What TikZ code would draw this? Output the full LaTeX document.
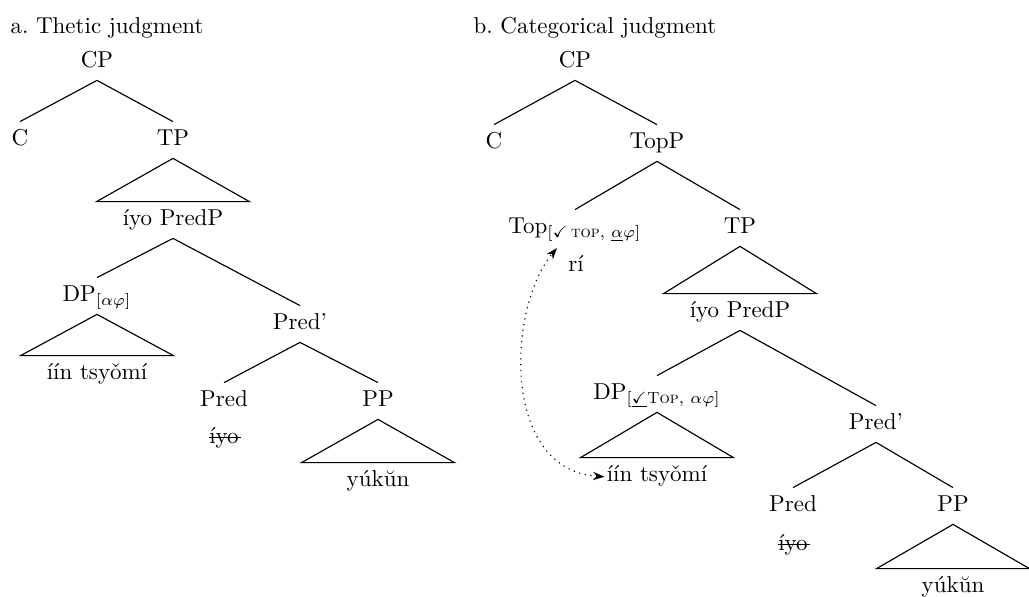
\documentclass[tikz,border=0pt]{standalone}
\usepackage{amsmath,amssymb}
\usetikzlibrary{arrows.meta}

\newcommand{\strikeword}[1]{\setbox0\hbox{#1}\rlap{\rule[0.55ex]{\dimexpr\wd0+1pt\relax}{0.5pt}}\box0}

\begin{document}
\begin{tikzpicture}[
    x=0.435pt, y=-0.435pt,
    line width=0.5pt,
    cat/.style={text height=1.6ex, text depth=0.45ex},
    word/.style={text height=1.6ex, text depth=0.45ex, minimum width=66pt},
    head/.style={text height=1.6ex, text depth=0.45ex},
    title/.style={anchor=west, inner sep=0pt},
    move/.style={dotted, {Stealth[length=5pt, width=3.6pt]}-{Stealth[length=5pt, width=3.6pt]}}
]
    \useasboundingbox (0,0) rectangle (1029,597);

    % a. Thetic judgment
    \node[title] (A_TITLE) at (10,28) {a.\ Thetic judgment};
    \node[cat] (A_CP) at (97,62) {CP};
    \node[cat] (A_C) at (20,140) {C};
    \node[cat] (A_TP) at (173,140) {TP};
    \node[word] (A_PREDP) at (173,220) {íyo PredP};
    \node[cat] (A_DP) at (97,296) {DP$_{[\alpha\varphi]}$};
    \node[word] (A_DPW) at (97,374) {íín tsyǒmí};
    \node[cat] (A_PREDB) at (300,324) {Pred'};
    \node[cat] (A_PRED) at (224,401) {Pred};
    \node[head] (A_IYO) at (224,438) {\strikeword{íyo}};
    \node[cat] (A_PP) at (378,401) {PP};
    \node[word] (A_PPW) at (378,481) {yúkŭn};

    \draw (A_CP.south) -- (A_C.north);
    \draw (A_CP.south) -- (A_TP.north);
    \draw (A_PREDP.south) -- (A_DP.north);
    \draw (A_PREDP.south) -- (A_PREDB.north);
    \draw (A_PREDB.south) -- (A_PRED.north);
    \draw (A_PREDB.south) -- (A_PP.north);

    % roofs
    \draw (A_TP.south) -- (A_PREDP.north west) -- (A_PREDP.north east) -- cycle;
    \draw (A_DP.south) -- (A_DPW.north west) -- (A_DPW.north east) -- cycle;
    \draw (A_PP.south) -- (A_PPW.north west) -- (A_PPW.north east) -- cycle;

    % b. Categorical judgment
    \node[title] (B_TITLE) at (473,28) {b.\ Categorical judgment};
    \node[cat] (B_CP) at (575,62) {CP};
    \node[cat] (B_C) at (494,143) {C};
    \node[cat] (B_TOPP) at (657,143) {TopP};
    \node[cat] (B_TOP) at (575,228) {Top$_{[\checkmark\,\text{\textsc{top}, }\underline{\alpha}\varphi]}$};
    \node[head] (B_RI) at (576,266) {rí};
    \node[cat] (B_TP) at (740,228) {TP};
    \node[word] (B_PREDP) at (740,312) {íyo PredP};
    \node[cat] (B_DP) at (657,394) {DP$_{[\underline{\checkmark}\text{\textsc{Top}, }\alpha\varphi]}$};
    \node[word] (B_DPW) at (657,476) {íín tsyǒmí};
    \node[cat] (B_PREDB) at (876,424) {Pred'};
    \node[cat] (B_PRED) at (793,506) {Pred};
    \node[head] (B_IYO) at (793,545) {\strikeword{íyo}};
    \node[cat] (B_PP) at (953,506) {PP};
    \node[word] (B_PPW) at (953,587) {yúkŭn};

    \draw (B_CP.south) -- (B_C.north);
    \draw (B_CP.south) -- (B_TOPP.north);
    \draw (B_TOPP.south) -- (B_TOP.north);
    \draw (B_TOPP.south) -- (B_TP.north);
    \draw (B_PREDP.south) -- (B_DP.north);
    \draw (B_PREDP.south) -- (B_PREDB.north);
    \draw (B_PREDB.south) -- (B_PRED.north);
    \draw (B_PREDB.south) -- (B_PP.north);

    % roofs
    \draw (B_TP.south) -- (B_PREDP.north west) -- (B_PREDP.north east) -- cycle;
    \draw (B_DP.south) -- (B_DPW.north west) -- (B_DPW.north east) -- cycle;
    \draw (B_PP.south) -- (B_PPW.north west) -- (B_PPW.north east) -- cycle;

    % movement
    \coordinate (B_CHK) at (557,248);
    \draw[move] ([xshift=-1pt, yshift=0.5ex]B_DPW.text) .. controls (501,470) and (507,308) .. (B_CHK);

\end{tikzpicture}
\end{document}
